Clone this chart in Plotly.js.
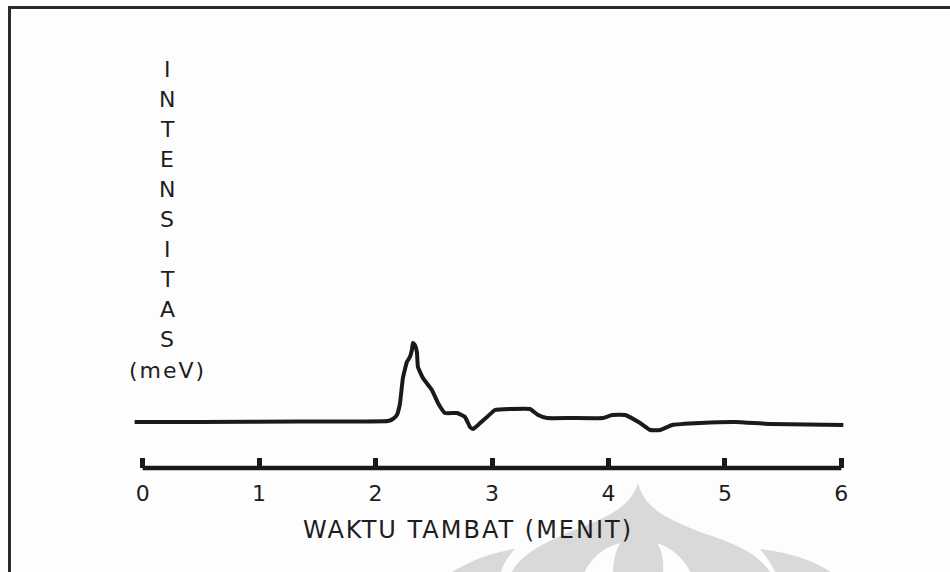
<!DOCTYPE html>
<html>
<head>
<meta charset="utf-8">
<script src="https://cdn.plot.ly/plotly-3.0.1.min.js"></script>
<style>
  html, body { margin: 0; padding: 0; background: #fdfdfd; }
  #chart { width: 950px; height: 572px; }
</style>
</head>
<body>
<div id="chart"></div>
<script>
// ---- data ----
const retentionTime = [-0.069, 0.49, 1.35, 2.106, 2.149, 2.183, 2.209, 2.235, 2.269, 2.295, 2.312, 2.321, 2.338, 2.355, 2.364,
  2.407, 2.484, 2.536, 2.596, 2.699, 2.768, 2.811, 2.837, 2.880, 2.957, 3.026, 3.155, 3.327, 3.396, 3.473,
  3.671, 3.954, 4.032, 4.143, 4.272, 4.358, 4.444, 4.547, 4.788, 5.089, 5.390, 6.017];
const intensity = [4.6, 4.6, 4.65, 4.7, 4.9, 5.3, 6.4, 9.0, 10.6, 11.1, 11.8, 12.5, 12.3, 11.6, 10.1,
  9.0, 7.8, 6.5, 5.5, 5.5, 5.1, 4.1, 3.9, 4.3, 5.1, 5.8, 5.9, 5.9, 5.3, 5.0,
  5.0, 5.0, 5.3, 5.3, 4.5, 3.8, 3.8, 4.3, 4.5, 4.6, 4.4, 4.3];
const tickValues = [0, 1, 2, 3, 4, 5, 6];
const tickLabels = ['0', '1', '2', '3', '4', '5', '6'];
const yTitleLetters = ['I', 'N', 'T', 'E', 'N', 'S', 'I', 'T', 'A', 'S', '(meV)'];
const xTitle = 'WAKTU TAMBAT (MENIT)';

// ---- layout helpers (pixel -> paper) ----
const W = 950, H = 572;
const M = {l: 131, r: 97, t: 60, b: 104};
const PW = W - M.l - M.r, PH = H - M.t - M.b;
const px = x => (x - M.l) / PW;
const py = y => (H - M.b - y) / PH;
function pathPx(cmds) {
  return cmds.map(c => {
    const L = c[0]; const pts = [];
    for (let i = 1; i < c.length; i += 2) pts.push(px(c[i]).toFixed(4) + ',' + py(c[i + 1]).toFixed(4));
    return L + ' ' + pts.join(' ');
  }).join(' ');
}

const ink = '#1a1a1a';
const txt = '#1e1e1e';
const fontFam = 'DejaVu Sans, Verdana, sans-serif';

const trace = {
  x: retentionTime, y: intensity, type: 'scatter', mode: 'lines',
  line: {color: ink, width: 4, shape: 'spline', smoothing: 0.35},
  hoverinfo: 'x+y', showlegend: false
};

const annotations = [];
yTitleLetters.forEach((t, i) => {
  annotations.push({
    text: t, xref: 'paper', yref: 'paper', x: px(167), y: py(69 + i * 30.1),
    xanchor: 'center', yanchor: 'middle', showarrow: false,
    font: {family: fontFam, size: 22, color: txt}
  });
});
annotations.push({
  text: xTitle, xref: 'paper', yref: 'paper', x: px(468), y: py(530),
  xanchor: 'center', yanchor: 'middle', showarrow: false,
  font: {family: fontFam, size: 24, color: txt}
});

const wm = '#d9d9d9';
const shapes = [
  // watermark (decorative, faint)
  {type: 'path', xref: 'paper', yref: 'paper', layer: 'below', fillcolor: wm, line: {width: 0},
   path: pathPx([['M', 638, 483], ['C', 630, 510, 600, 520, 567, 533], ['C', 540, 545, 520, 555, 510, 575],
                 ['L', 772, 575], ['C', 760, 555, 740, 545, 700, 532], ['C', 670, 520, 645, 510, 638, 483], ['Z']])},
  {type: 'path', xref: 'paper', yref: 'paper', layer: 'below', fillcolor: wm, line: {width: 0},
   path: pathPx([['M', 447, 575], ['C', 470, 560, 495, 552, 515, 549], ['C', 508, 556, 503, 564, 500, 575], ['Z']])},
  {type: 'path', xref: 'paper', yref: 'paper', layer: 'below', fillcolor: wm, line: {width: 0},
   path: pathPx([['M', 760, 549], ['C', 790, 553, 815, 560, 835, 575], ['L', 777, 575], ['C', 772, 565, 766, 556, 760, 549], ['Z']])},
  {type: 'path', xref: 'paper', yref: 'paper', layer: 'below', fillcolor: '#fdfdfd', line: {width: 0},
   path: pathPx([['M', 583, 575], ['C', 592, 556, 605, 547, 620, 543], ['C', 615, 552, 613, 562, 613, 575], ['Z']])},
  {type: 'path', xref: 'paper', yref: 'paper', layer: 'below', fillcolor: '#fdfdfd', line: {width: 0},
   path: pathPx([['M', 657, 543], ['C', 662, 550, 664, 560, 663, 575], ['L', 692, 575], ['C', 684, 558, 672, 548, 657, 543], ['Z']])},
  // frame of the scanned figure (top and left only)
  {type: 'line', xref: 'paper', yref: 'paper', x0: px(8), x1: px(950), y0: py(7.5), y1: py(7.5), line: {color: '#2a2a2a', width: 3}},
  {type: 'line', xref: 'paper', yref: 'paper', x0: px(9.5), x1: px(9.5), y0: py(6), y1: py(575), line: {color: '#2a2a2a', width: 3}},
  // time axis line
  {type: 'line', xref: 'x', yref: 'paper', x0: 0, x1: 6, y0: 0, y1: 0, line: {color: ink, width: 4.5}}
];

const layout = {
  width: W, height: H,
  margin: M,
  paper_bgcolor: '#fdfdfd', plot_bgcolor: 'rgba(0,0,0,0)',
  showlegend: false,
  xaxis: {
    range: [-0.1, 6.1], showline: false, zeroline: false, showgrid: false,
    ticks: 'inside', ticklen: 10, tickwidth: 5, tickcolor: ink,
    tickmode: 'array', tickvals: tickValues, ticktext: tickLabels,
    tickfont: {family: fontFam, size: 22, color: txt},
    ticklabelstandoff: 10, fixedrange: true
  },
  yaxis: {range: [0, PH / 10], visible: false, fixedrange: true},
  shapes: shapes,
  annotations: annotations
};

Plotly.newPlot('chart', [trace], layout, {displayModeBar: false, staticPlot: true}).then(() => {
  // the scanned axis title is set slightly wider than the font
  document.querySelectorAll('.annotation-text').forEach(t => {
    if (t.textContent === xTitle) t.style.letterSpacing = '2px';
    if (t.textContent === '(meV)') t.style.letterSpacing = '2px';
  });
});
</script>
</body>
</html>
